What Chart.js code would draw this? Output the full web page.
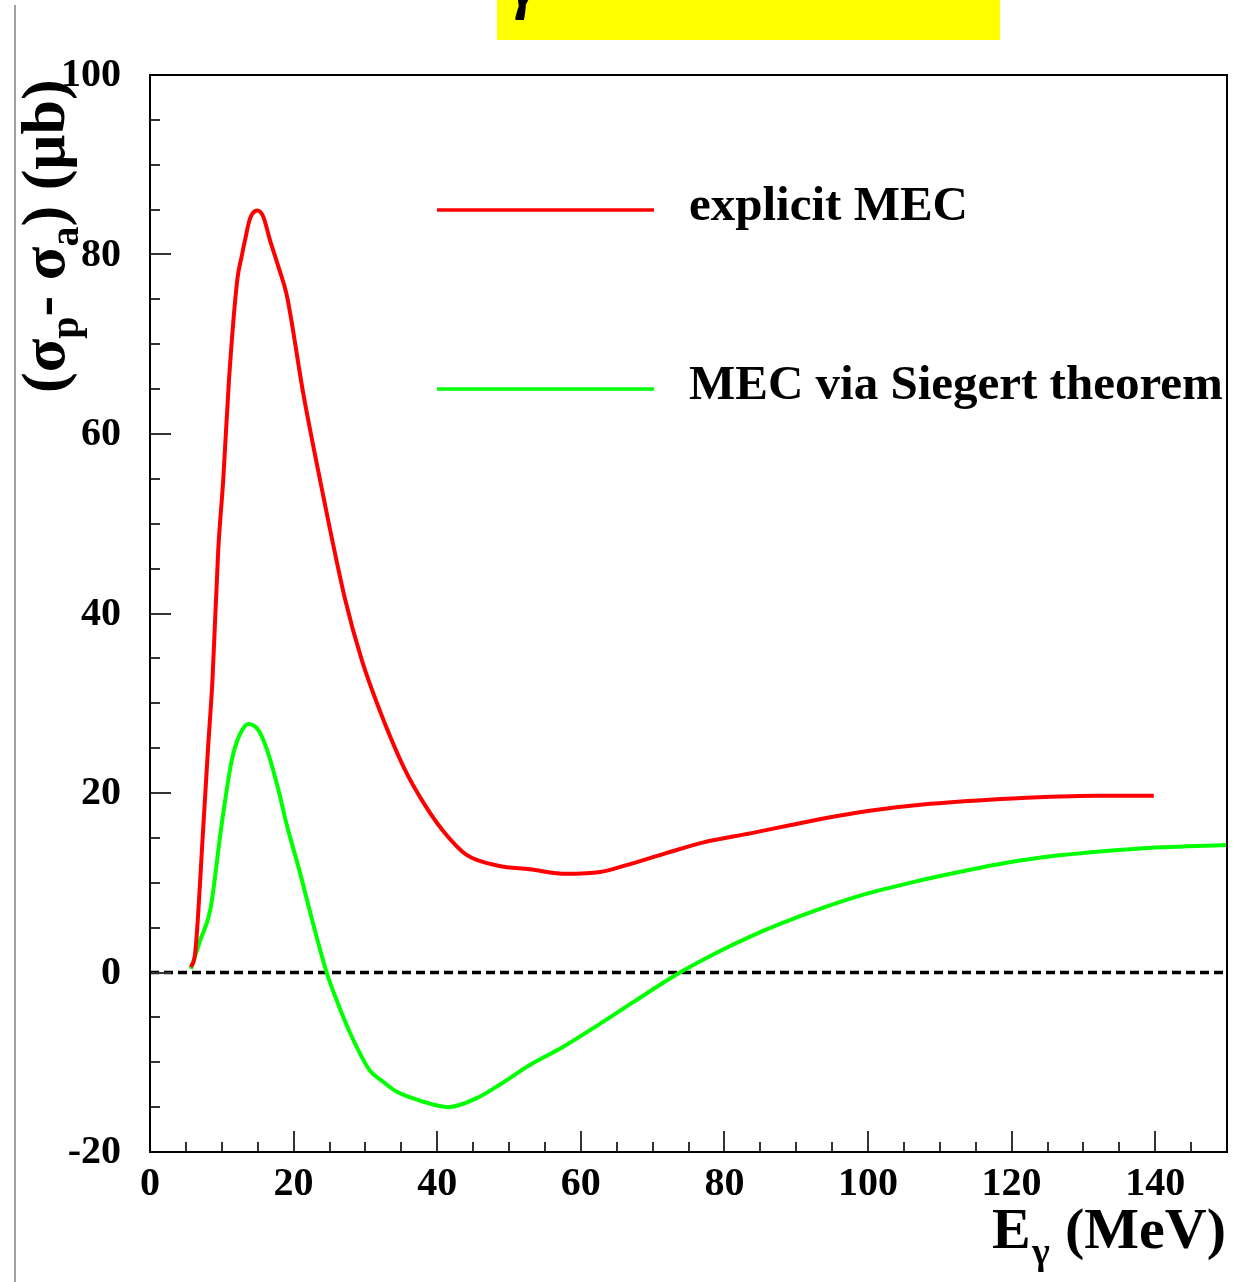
<!DOCTYPE html>
<html>
<head>
<meta charset="utf-8">
<script src="https://cdn.jsdelivr.net/npm/chart.js@4"></script>
<style>
  html, body { margin: 0; padding: 0; background: #fff; }
  canvas { display: block; }
</style>
</head>
<body>
<canvas id="c" width="1248" height="1282"></canvas>
<script>
// ---- data ----
const explicitE = [5.7, 6.3, 7.4, 8.1, 8.7, 9.5, 10.2, 11.0, 12.16, 12.77, 13.23, 13.93, 14.94, 15.78, 16.71, 17.9, 19.04, 21.35, 23.68, 27.2, 29.5, 32.0, 35.5, 38.1, 40.8, 44.1, 48.5, 52.9, 58.0, 62.7, 66.1, 71.9, 77.1, 83.6, 89.1, 95.5, 101.0, 108.7, 120.2, 131.7, 139.8];
const explicitV = [0.6, 2.2, 15.9, 25.2, 32.6, 47.0, 54.9, 66.0, 77.2, 79.8, 81.6, 84.0, 84.9, 84.2, 81.6, 78.6, 75.5, 64.5, 54.9, 41.5, 34.8, 29.2, 22.6, 18.9, 15.8, 13.1, 11.9, 11.5, 11.0, 11.2, 11.9, 13.3, 14.5, 15.5, 16.4, 17.4, 18.1, 18.8, 19.4, 19.7, 19.7];

const siegertE = [5.7, 7.0, 8.4, 10.0, 11.4, 12.5, 13.7, 15.1, 16.3, 17.9, 19.0, 20.9, 22.7, 24.6, 26.0, 27.9, 30.6, 32.5, 34.4, 38.1, 41.5, 45.5, 48.7, 52.9, 57.5, 62.7, 67.3, 73.8, 79.4, 83.6, 87.4, 93.7, 99.5, 106.4, 112.7, 119.1, 126.0, 137.5, 150.0];
const siegertV = [0.4, 3.6, 7.0, 16.6, 23.7, 26.5, 27.7, 27.0, 24.8, 20.3, 16.6, 11.1, 5.5, 0.0, -3.1, -6.8, -10.9, -12.2, -13.3, -14.4, -15.0, -14.0, -12.5, -10.3, -8.3, -5.7, -3.3, 0.0, 2.4, 4.0, 5.3, 7.2, 8.7, 10.1, 11.2, 12.2, 13.0, 13.8, 14.2];

const zeroE = [0, 150];
const zeroV = [0, 0];

const xTickValues = [0, 20, 40, 60, 80, 100, 120, 140];
const xTickLabels = ['0', '20', '40', '60', '80', '100', '120', '140'];
const yTickValues = [-20, 0, 20, 40, 60, 80, 100];
const yTickLabels = ['-20', '0', '20', '40', '60', '80', '100'];
const minorStep = 5;

const seriesNames = ['explicit MEC', 'MEC via Siegert theorem'];
const seriesColors = ['#ff0000', '#00ff00'];

const toPts = (xs, ys) => xs.map((x, i) => ({ x: x, y: ys[i] }));

const FONT = '"Liberation Serif", "Times New Roman", serif';

const decor = {
  id: 'decor',
  beforeDraw(chart) {
    const ctx = chart.ctx;
    ctx.save();
    ctx.fillStyle = '#ffffff';
    ctx.fillRect(0, 0, chart.width, chart.height);
    // yellow title box (cut off at top)
    ctx.fillStyle = '#ffff00';
    ctx.fillRect(497, 0, 503, 40);
    ctx.fillStyle = '#000';
    ctx.font = 'italic bold 64px ' + FONT;
    ctx.textBaseline = 'alphabetic';
    ctx.textAlign = 'left';
    ctx.fillText('γ', 512, 6);
    // thin grey vertical line at left
    ctx.strokeStyle = '#808080';
    ctx.lineWidth = 1.5;
    ctx.beginPath();
    ctx.moveTo(15, 5);
    ctx.lineTo(15, 1282);
    ctx.stroke();
    ctx.restore();
  },
  afterDatasetsDraw(chart) {
    const ctx = chart.ctx;
    const xs = chart.scales.x, ys = chart.scales.y;
    const a = chart.chartArea;
    ctx.save();
    // ticks
    ctx.strokeStyle = '#333';
    ctx.lineWidth = 2;
    ctx.beginPath();
    for (let v = xs.min; v <= xs.max + 1e-9; v += minorStep) {
      const px = Math.round(xs.getPixelForValue(v));
      const len = (v % 20 === 0) ? 21 : 10;
      ctx.moveTo(px, a.bottom);
      ctx.lineTo(px, a.bottom - len);
    }
    for (let v = ys.min; v <= ys.max + 1e-9; v += minorStep) {
      const py = Math.round(ys.getPixelForValue(v));
      const len = (v % 20 === 0) ? 21 : 10;
      ctx.moveTo(a.left, py);
      ctx.lineTo(a.left + len, py);
    }
    ctx.stroke();
    // frame
    ctx.strokeStyle = '#000';
    ctx.lineWidth = 2;
    ctx.beginPath();
    ctx.moveTo(a.left, a.top);
    ctx.lineTo(a.right, a.top);
    ctx.lineTo(a.right, a.bottom);
    ctx.lineTo(a.left, a.bottom);
    ctx.closePath();
    ctx.stroke();

    // tick labels
    ctx.fillStyle = '#000';
    ctx.font = 'bold 40px ' + FONT;
    ctx.textAlign = 'center';
    ctx.textBaseline = 'alphabetic';
    xTickValues.forEach((v, i) => {
      ctx.fillText(xTickLabels[i], xs.getPixelForValue(v), 1195);
    });
    ctx.textAlign = 'right';
    ctx.textBaseline = 'middle';
    yTickValues.forEach((v, i) => {
      ctx.fillText(yTickLabels[i], 121, ys.getPixelForValue(v) + 1);
    });

    // x title: E_gamma (MeV)
    ctx.textBaseline = 'alphabetic';
    ctx.textAlign = 'left';
    ctx.font = 'bold 58px ' + FONT;
    ctx.fillText('E', 992, 1248);
    ctx.font = 'bold 38px ' + FONT;
    ctx.fillText('γ', 1032, 1264);
    ctx.font = 'bold 58px ' + FONT;
    ctx.textAlign = 'right';
    ctx.fillText('(MeV)', 1226, 1248);

    // y title rotated
    ctx.save();
    ctx.translate(64, 393);
    ctx.rotate(-Math.PI / 2);
    ctx.textAlign = 'left';
    ctx.textBaseline = 'alphabetic';
    const runs = [
      ['(σ', 62, 0],
      ['p', 40, 14],
      ['- σ', 62, 0],
      ['a', 40, 14],
      [') (μb)', 62, 0]
    ];
    let cx = 0;
    runs.forEach(r => {
      ctx.font = 'bold ' + r[1] + 'px ' + FONT;
      ctx.fillText(r[0], cx, r[2]);
      cx += ctx.measureText(r[0]).width;
    });
    ctx.restore();

    // legend
    const legY = [210, 389];
    ctx.lineWidth = 3.5;
    legY.forEach((y, i) => {
      ctx.strokeStyle = seriesColors[i];
      ctx.beginPath();
      ctx.moveTo(437, y);
      ctx.lineTo(654, y);
      ctx.stroke();
      ctx.fillStyle = '#000';
      ctx.font = 'bold 49px ' + FONT;
      ctx.textAlign = 'left';
      ctx.textBaseline = 'alphabetic';
      ctx.fillText(seriesNames[i], 689, y + 10);
    });
    ctx.restore();
  }
};

new Chart(document.getElementById('c'), {
  type: 'scatter',
  data: {
    datasets: [
      { label: seriesNames[0], data: toPts(explicitE, explicitV), showLine: true, borderColor: seriesColors[0], borderWidth: 4, pointRadius: 0, cubicInterpolationMode: 'monotone', fill: false },
      { label: seriesNames[1], data: toPts(siegertE, siegertV), showLine: true, borderColor: seriesColors[1], borderWidth: 4, pointRadius: 0, cubicInterpolationMode: 'monotone', fill: false },
      { label: 'zero', data: toPts(zeroE, zeroV), showLine: true, borderColor: '#000', borderWidth: 3.5, borderDash: [9, 5], pointRadius: 0, fill: false }
    ]
  },
  options: {
    responsive: false,
    devicePixelRatio: 1,
    animation: false,
    layout: { padding: { left: 150, top: 75, right: 21, bottom: 130 } },
    plugins: { legend: { display: false }, tooltip: { enabled: false } },
    scales: {
      x: { type: 'linear', display: false, min: 0, max: 150 },
      y: { type: 'linear', display: false, min: -20, max: 100 }
    }
  },
  plugins: [decor]
});
</script>
</body>
</html>
